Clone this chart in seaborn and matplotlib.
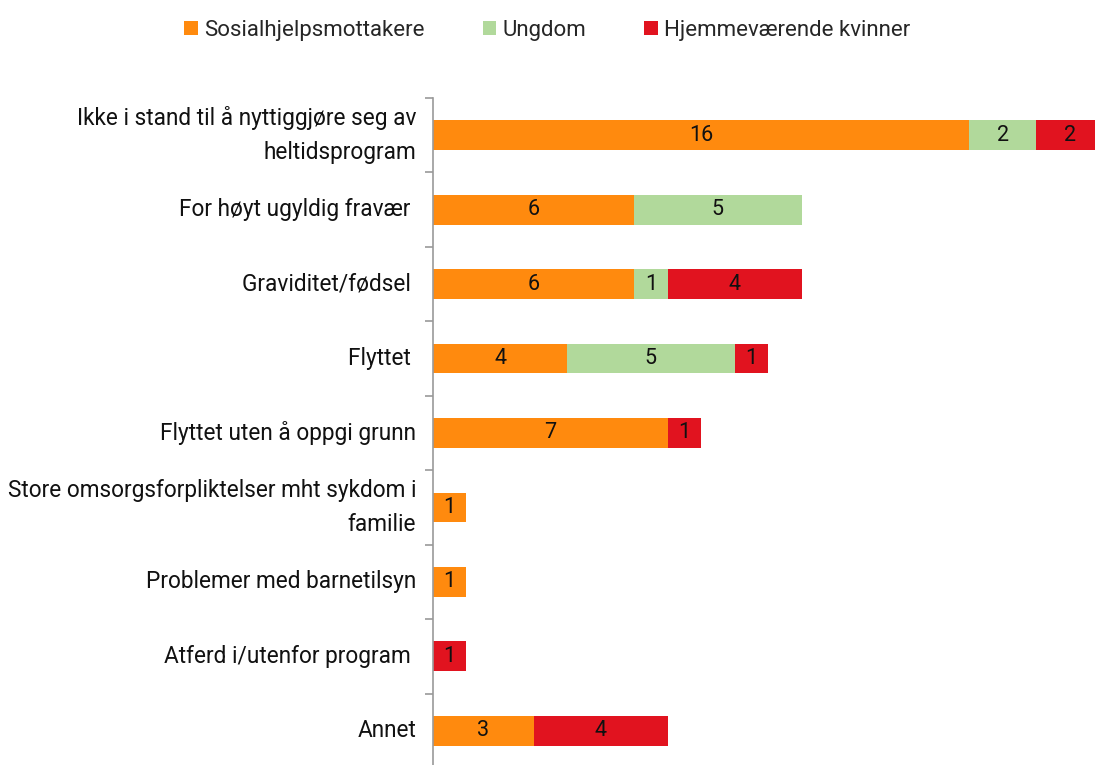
import pandas as pd
import numpy as np
import matplotlib
matplotlib.use("Agg")
import matplotlib.pyplot as plt
from matplotlib.patches import Patch
import seaborn as sns

# data
categories = [
    "Ikke i stand til å nyttiggjøre seg av\nheltidsprogram",
    "For høyt ugyldig fravær ",
    "Graviditet/fødsel ",
    "Flyttet ",
    "Flyttet uten å oppgi grunn",
    "Store omsorgsforpliktelser mht sykdom i\nfamilie",
    "Problemer med barnetilsyn",
    "Atferd i/utenfor program ",
    "Annet",
]
sosial = [16, 6, 6, 4, 7, 1, 1, 0, 3]
ungdom = [2, 5, 1, 5, 0, 0, 0, 0, 0]
kvinner = [2, 0, 4, 1, 1, 0, 0, 1, 4]
series_names = ["Sosialhjelpsmottakere", "Ungdom", "Hjemmeværende kvinner"]
colors = ["#FF8A0E", "#B1D99B", "#E1131F"]

df = pd.DataFrame({"kategori": categories, "s": sosial, "u": ungdom, "k": kvinner})
df["c1"] = df["s"]
df["c2"] = df["s"] + df["u"]
df["c3"] = df["s"] + df["u"] + df["k"]

sns.set_theme(style="white")
plt.rcParams["font.family"] = ["Roboto", "DejaVu Sans"]

fig = plt.figure(figsize=(10.95, 7.65), dpi=100)
ax = fig.add_axes([0.3954, -0.004, 0.6046, 0.876])

# stacked bars: draw cumulative totals back to front
for col, color in zip(["c3", "c2", "c1"], colors[::-1]):
    sns.barplot(data=df, x=col, y="kategori", color=color, width=0.4,
                orient="h", ax=ax, saturation=1, edgecolor="none")

# value labels in the middle of each segment
for i, row in df.iterrows():
    left = 0
    for val in [row["s"], row["u"], row["k"]]:
        if val > 0:
            ax.text(left + val / 2, i, str(val), ha="center", va="center",
                    fontsize=15.5, color="#111111")
        left += val

ax.set_xlim(0, 19.75)
ax.set_ylim(len(categories) - 0.5, -0.5)
ax.set_xlabel("")
ax.set_ylabel("")
ax.set_xticks([])
ax.set_yticks(np.arange(len(categories)))
ax.set_yticklabels(categories, fontsize=16.3, color="#111111", linespacing=1.6, va="center")
ax.set_yticks(np.arange(len(categories) + 1) - 0.5, minor=True)
ax.tick_params(axis="y", which="major", length=0, pad=12)
ax.tick_params(axis="y", which="minor", left=True, length=6, width=1.2,
               color="#999999", direction="out")
for side in ["top", "right", "bottom"]:
    ax.spines[side].set_visible(False)
ax.spines["left"].set_color("#999999")
ax.spines["left"].set_linewidth(1.2)

handles = [Patch(facecolor=c, edgecolor="none", label=n) for c, n in zip(colors, series_names)]
fig.legend(handles=handles, loc="upper center", bbox_to_anchor=(0.5, 1.0), ncol=3,
           frameon=False, fontsize=16, handlelength=0.6, handleheight=0.6,
           handletextpad=0.3, columnspacing=2.6)

fig.savefig("out.png", dpi=100)
